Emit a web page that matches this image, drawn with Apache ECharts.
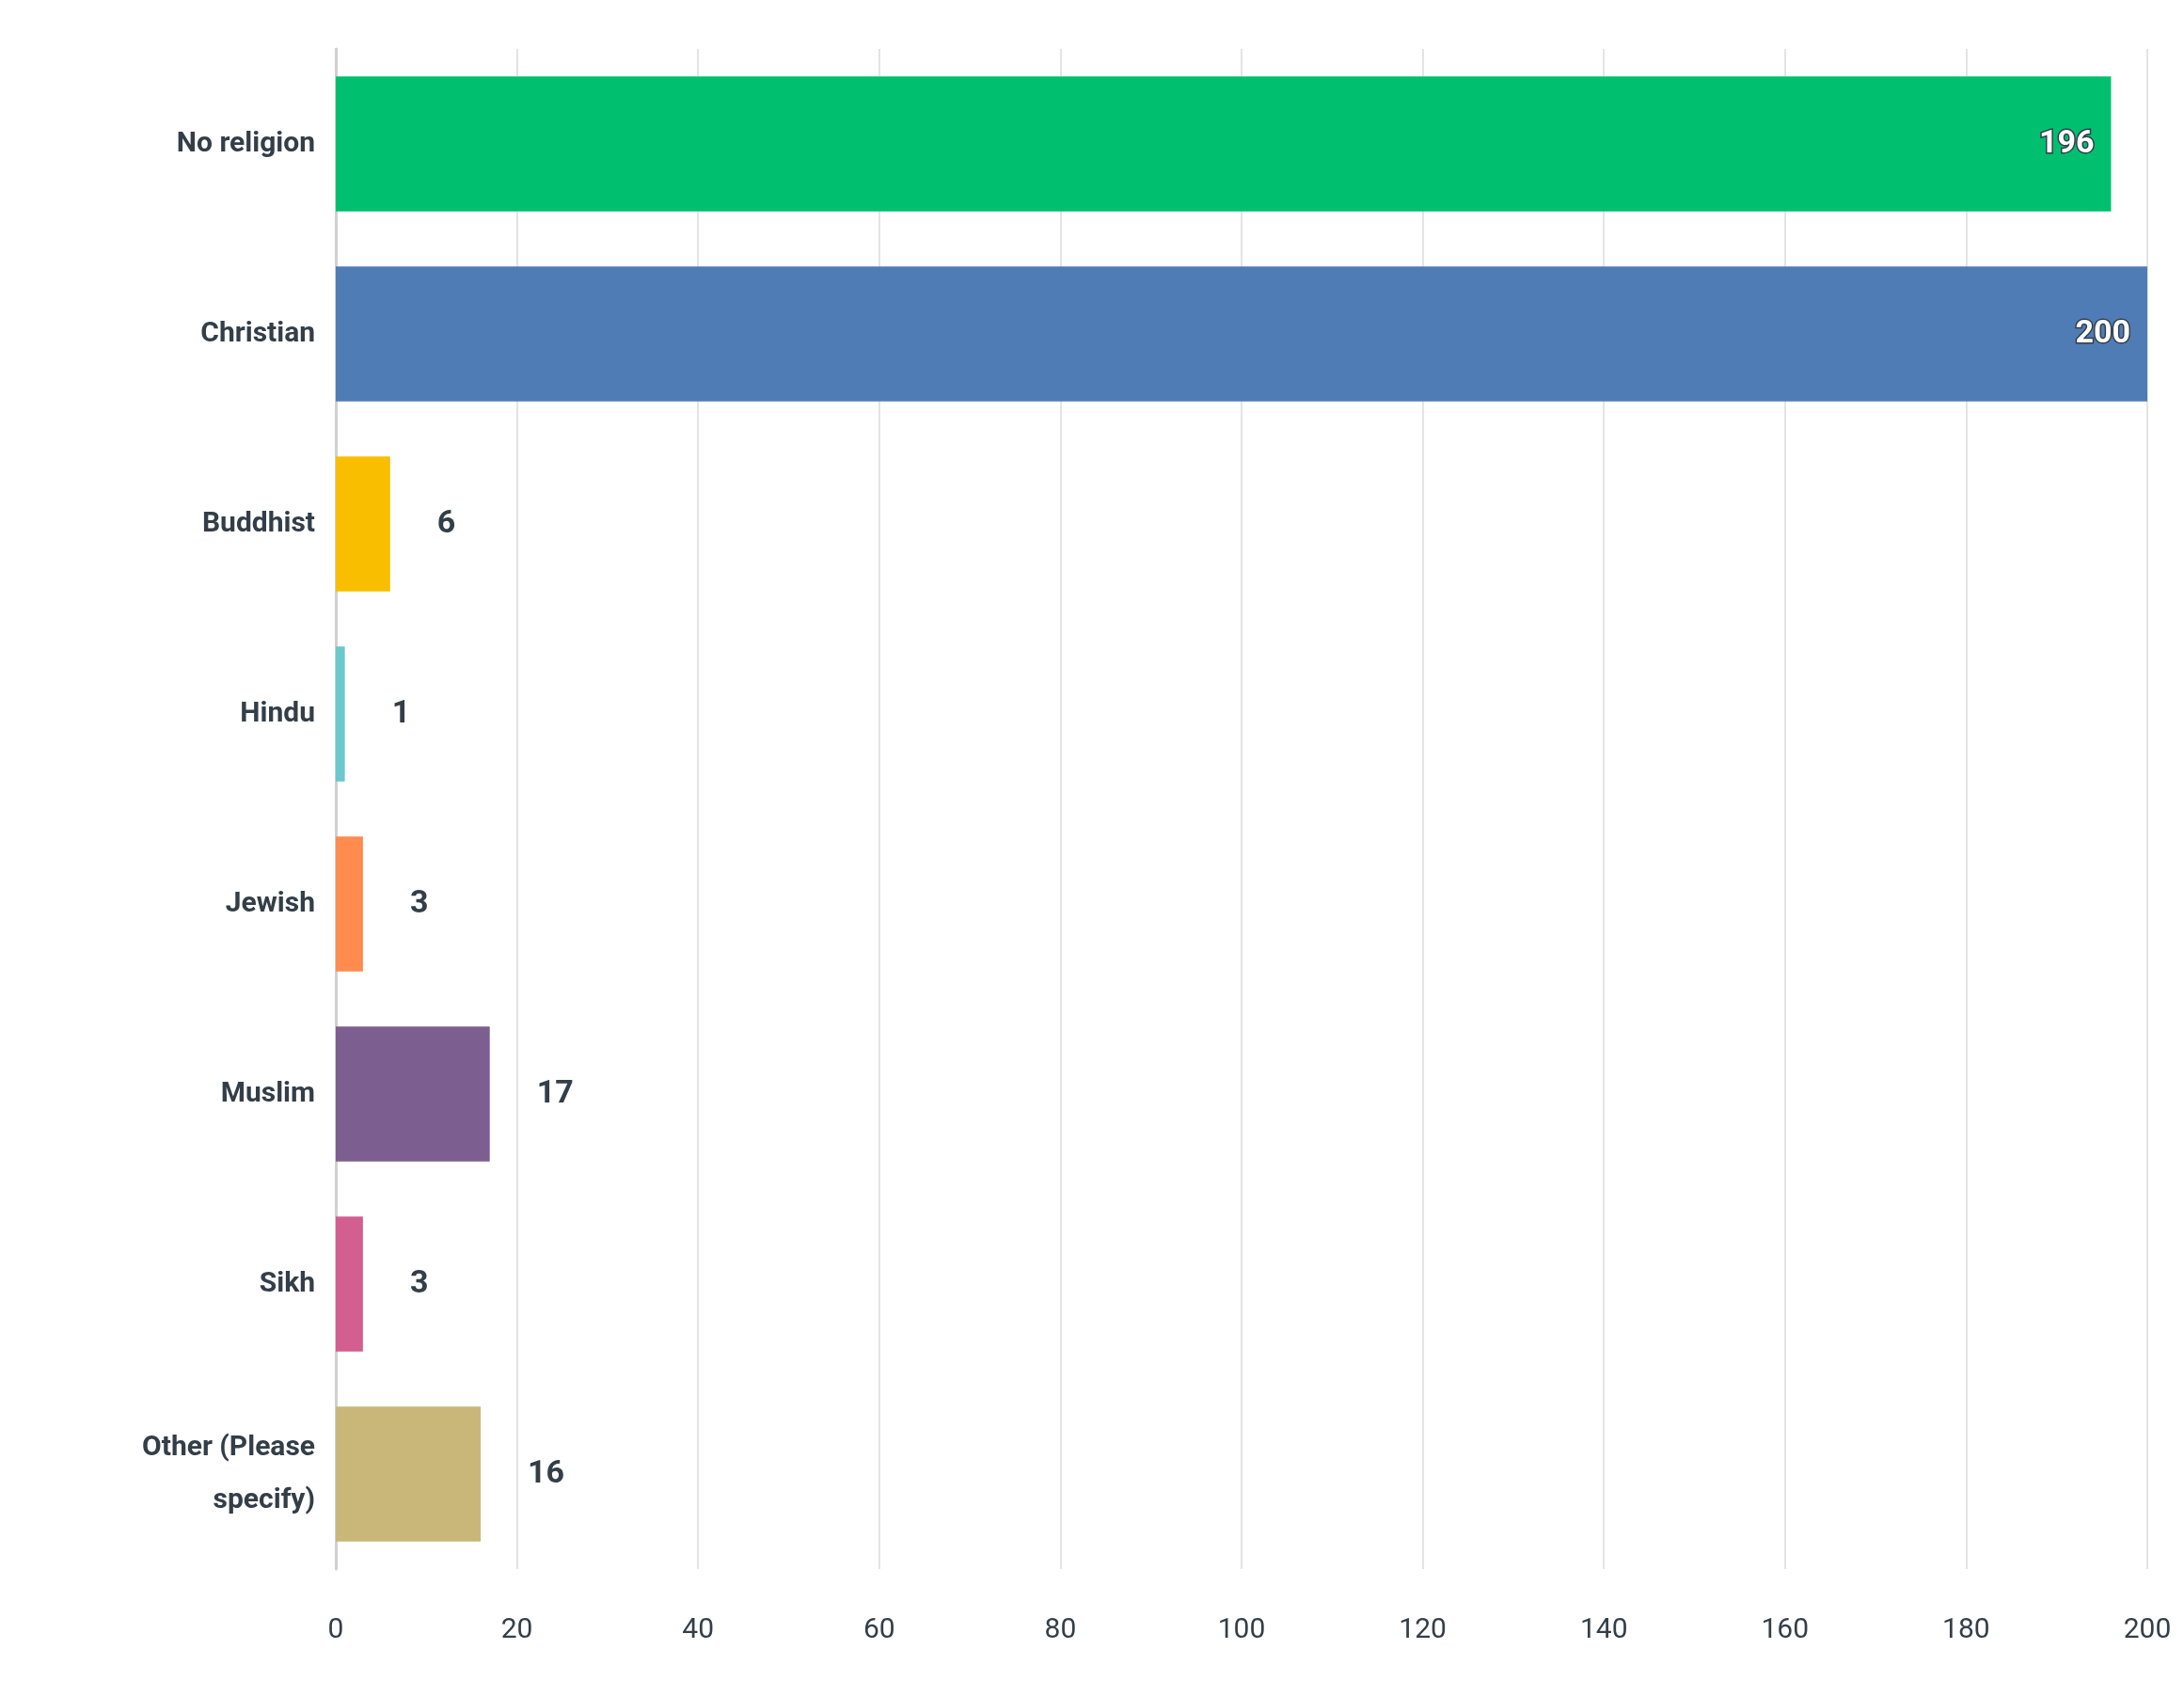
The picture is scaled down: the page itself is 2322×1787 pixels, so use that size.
<!DOCTYPE html>
<html>
<head>
<meta charset="utf-8">
<script src="https://cdn.jsdelivr.net/npm/echarts@6/dist/echarts.min.js"></script>
<style>html,body{margin:0;background:#fff}#chartDiv{width:2322px;height:1787px}</style>
</head>
<body>
<div id="chartDiv"></div>
<script>
var categories = ['No religion', 'Christian', 'Buddhist', 'Hindu', 'Jewish', 'Muslim', 'Sikh', 'Other (Please\nspecify)'];
var values = [196, 200, 6, 1, 3, 17, 3, 16];
var colors = ['#00bf6f', '#507cb6', '#f9be00', '#6bc8cd', '#ff8b4f', '#7d5e90', '#d25f90', '#c9b77a'];
var xTicks = [0, 20, 40, 60, 80, 100, 120, 140, 160, 180, 200];

var myChart = echarts.init(document.getElementById('chartDiv'));

var seriesData = values.map(function (v, i) {
    var inside = v > 100;
    return {
        value: v,
        itemStyle: {color: colors[i]},
        label: inside ? {
            position: 'insideRight',
            distance: 18,
            color: '#fff',
            textBorderColor: '#333e48',
            textBorderWidth: 3
        } : {
            position: 'right',
            distance: 50,
            color: '#333e48'
        }
    };
});

option = {
    backgroundColor: '#fff',
    grid: {left: 357, right: 39, top: 52, bottom: 119},
    xAxis: {
        type: 'value',
        min: xTicks[0],
        max: xTicks[xTicks.length - 1],
        interval: 20,
        axisLine: {show: false},
        axisTick: {show: false},
        axisLabel: {
            margin: 50,
            fontSize: 30,
            color: '#333e48',
            fontFamily: 'Roboto'
        },
        splitLine: {show: true, lineStyle: {color: '#e4e4e4', width: 2}}
    },
    yAxis: {
        type: 'category',
        inverse: true,
        data: categories,
        axisLine: {show: true, lineStyle: {color: '#d0d0d0', width: 3}},
        axisTick: {show: false},
        axisLabel: {
            margin: 22,
            fontSize: 30,
            fontWeight: 'bold',
            color: '#333e48',
            fontFamily: 'Roboto',
            lineHeight: 56,
            align: 'right'
        }
    },
    series: [{
        type: 'bar',
        data: seriesData,
        barCategoryGap: '29%',
        label: {
            show: true,
            fontSize: 34,
            fontWeight: 'bold',
            fontFamily: 'Roboto'
        }
    }]
};
myChart.setOption(option);
</script>
</body>
</html>
